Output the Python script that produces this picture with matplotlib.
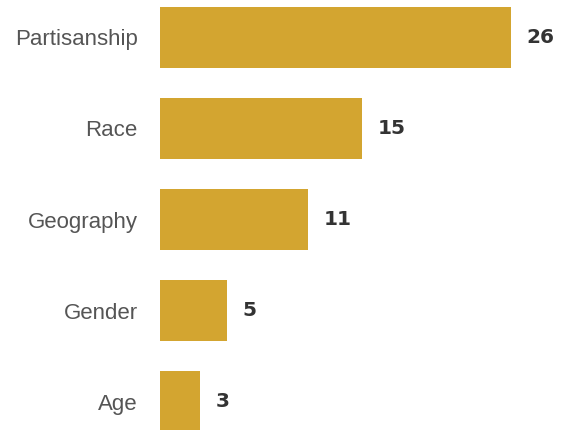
import matplotlib.pyplot as plt

# Share of respondents naming each factor
categories = ["Partisanship", "Race", "Geography", "Gender", "Age"]
values = [26, 15, 11, 5, 3]

bar_color = "#D3A530"
label_color = "#555555"
value_color = "#333333"

plt.rcParams["font.family"] = ["Liberation Sans", "DejaVu Sans"]

fig = plt.figure(figsize=(5.62, 4.30), dpi=100)
ax = fig.add_axes([160 / 562, 0, 1 - 160 / 562, 1])

pos = list(range(len(categories)))
ax.barh(pos, values, height=0.67, color=bar_color)

for y, v in zip(pos, values):
    ax.annotate(str(v), (v, y), xytext=(11, 0), textcoords="offset points",
                va="center", ha="left", fontsize=14.5, fontweight="bold",
                family="DejaVu Sans", color=value_color)

ax.set_yticks(pos)
ax.set_yticklabels(categories, fontsize=16, color=label_color)
ax.tick_params(axis="y", length=0, pad=16)
ax.set_xticks([])
ax.set_xlim(0, 29.8)
ax.set_ylim(4.313, -0.412)
for s in ax.spines.values():
    s.set_visible(False)

fig.savefig("out.png", dpi=100)
